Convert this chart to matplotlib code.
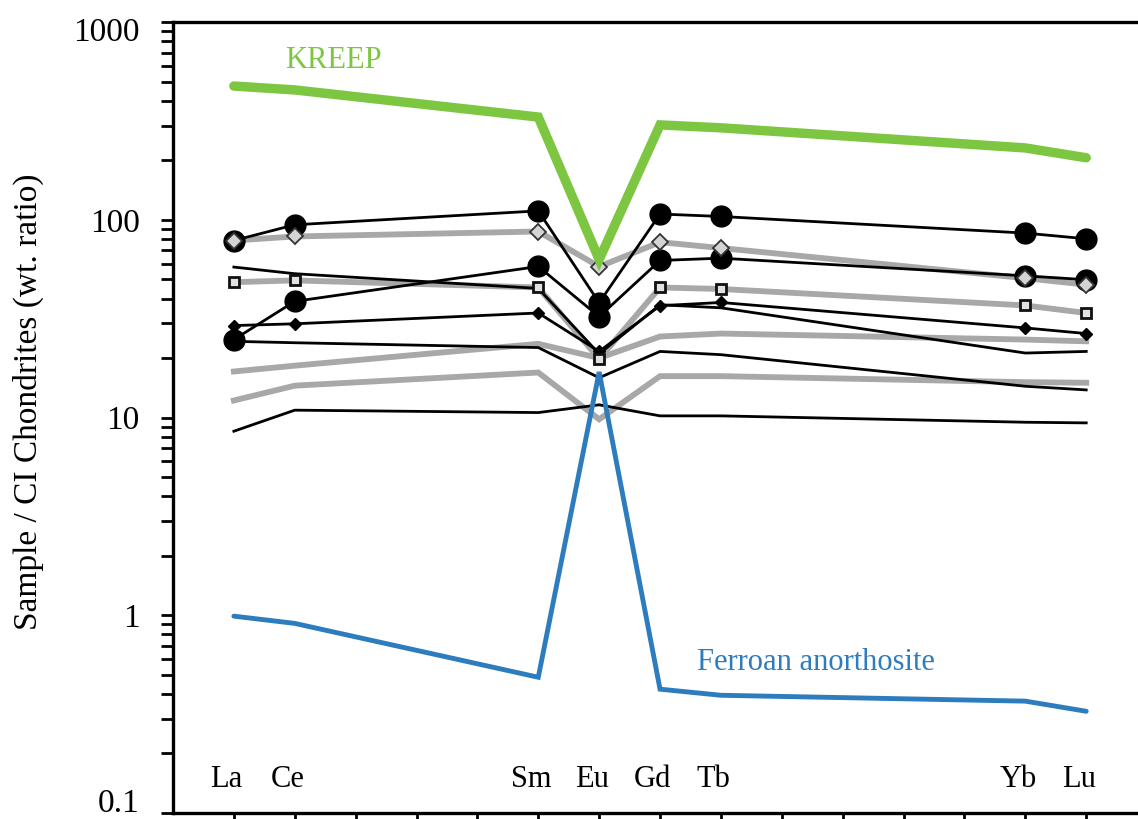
import numpy as np
import matplotlib
matplotlib.use("Agg")
import matplotlib.pyplot as plt
from matplotlib.ticker import LogLocator, NullFormatter, FixedLocator
from matplotlib.transforms import ScaledTranslation

plt.rcParams["font.family"] = ["Liberation Serif", "DejaVu Serif"]

# REE axis: La (57) .. Lu (71); only some elements carry data / labels
ree_z = list(range(57, 72))
data_z = [57, 58, 62, 63, 64, 65, 70, 71]
data_labels = ["La", "Ce", "Sm", "Eu", "Gd", "Tb", "Yb", "Lu"]

# chondrite-normalised abundances
kreep = [475, 454, 331, 63, 302, 292, 231, 206]
ferroan = [0.99, 0.91, 0.486, 17, 0.423, 0.394, 0.368, 0.327]

# black samples
blk_circ_a = [78.6, 94.4, 111, 38.1, 107, 104, 85.7, 80.2]
blk_circ_b = [24.8, 38.7, 58.1, 32.4, 62.3, 64.0, 52.1, 49.8]
blk_dia = [29.2, 29.8, 33.8, 21.6, 36.8, 38.2, 28.4, 26.6]
blk_plain_a = [57.7, 53.4, 45.0, 21.0, 37.2, 35.9, 21.2, 21.6]
blk_plain_b = [24.3, 23.9, 22.6, 15.9, 21.6, 20.8, 14.4, 13.8]
blk_plain_c = [8.53, 10.9, 10.6, 11.6, 10.2, 10.2, 9.47, 9.4]

# grey samples
gry_dia = [78.6, 82.4, 87.3, 58.0, 77.1, 72.0, 50.7, 47.0]
gry_sq = [48.4, 49.4, 45.5, 19.8, 45.5, 44.7, 36.9, 33.8]
gry_plain_a = [17.1, 18.3, 23.6, 20.0, 25.7, 26.6, 24.8, 24.3]
gry_plain_b = [12.2, 14.5, 16.9, 9.8, 16.2, 16.2, 15.1, 15.0]

GREY = "#a8a8a8"
GREEN = "#7dc642"
BLUE = "#2d7cbd"

fig = plt.figure(figsize=(11.38, 8.19), dpi=100)
ax = fig.add_axes([0.152, 0.0073, 0.856, 0.9657])

# grey lines underneath
for ys in [gry_dia, gry_sq, gry_plain_a, gry_plain_b]:
    ax.plot(data_z, ys, color=GREY, lw=4.2, zorder=2, solid_joinstyle="miter")

# black lines
for ys in [blk_circ_a, blk_circ_b, blk_dia, blk_plain_a, blk_plain_b, blk_plain_c]:
    ax.plot(data_z, ys, color="black", lw=2.0, zorder=3)
ax.plot(data_z, blk_circ_a, ls="none", marker="o", ms=15, color="black", zorder=3)
ax.plot(data_z, blk_circ_b, ls="none", marker="o", ms=15, color="black", zorder=3)
ax.plot(data_z, blk_dia, ls="none", marker="D", ms=6.5, color="black", zorder=3)

# grey markers on top of the black circles
ax.plot(data_z, gry_dia, ls="none", marker="D", ms=8, mfc="#d4d4d4",
        mec="#333333", mew=1.3, zorder=4)
ax.plot(data_z, gry_sq, ls="none", marker="s", ms=7.5, mfc="#e2e2e2",
        mec="#111111", mew=2, zorder=4)

# reference compositions
ax.plot(data_z, kreep, color=GREEN, lw=6.8, zorder=5,
        solid_capstyle="round", solid_joinstyle="miter")
ax.plot(data_z, ferroan, color=BLUE, lw=3.5, zorder=5,
        solid_capstyle="round", solid_joinstyle="miter")

ax.text(58.64, 643, "KREEP", color=GREEN, fontsize=22, ha="center", va="center")
ax.text(66.56, 0.575, "Ferroan anorthosite", color=BLUE, fontsize=22,
        ha="center", va="center")

for z, lab in zip(data_z, data_labels):
    ax.text(z - 0.12, 0.148, lab, fontsize=22, ha="center", va="center")

ax.set_yscale("log")
ax.set_ylim(0.1, 1000)
ax.set_xlim(56, 72)

ax.yaxis.set_major_locator(FixedLocator([0.1, 1, 10, 100, 1000]))
ax.set_yticklabels(["0.1", "1", "10", "100", "1000"])
ax.yaxis.set_minor_locator(LogLocator(base=10, subs=np.arange(2, 10)))
ax.yaxis.set_minor_formatter(NullFormatter())
ax.tick_params(axis="y", which="both", direction="out", length=9, width=2,
               labelsize=24, pad=15)

ax.set_xticks(ree_z)
ax.tick_params(axis="x", direction="out", length=6, width=2, labelbottom=False)

# keep the end labels inside the frame
end_labels = ax.get_yticklabels()
end_labels[0].set_transform(end_labels[0].get_transform()
                            + ScaledTranslation(0, 9.5 / 72, fig.dpi_scale_trans))
end_labels[-1].set_transform(end_labels[-1].get_transform()
                             + ScaledTranslation(0, -5 / 72, fig.dpi_scale_trans))

for side in ["left", "top", "bottom"]:
    ax.spines[side].set_linewidth(2.4)
ax.spines["right"].set_visible(False)

fig.text(0.025, 0.51, "Sample / CI Chondrites (wt. ratio)", rotation=90,
         fontsize=24, ha="center", va="center")

fig.savefig("out.png", dpi=100)
